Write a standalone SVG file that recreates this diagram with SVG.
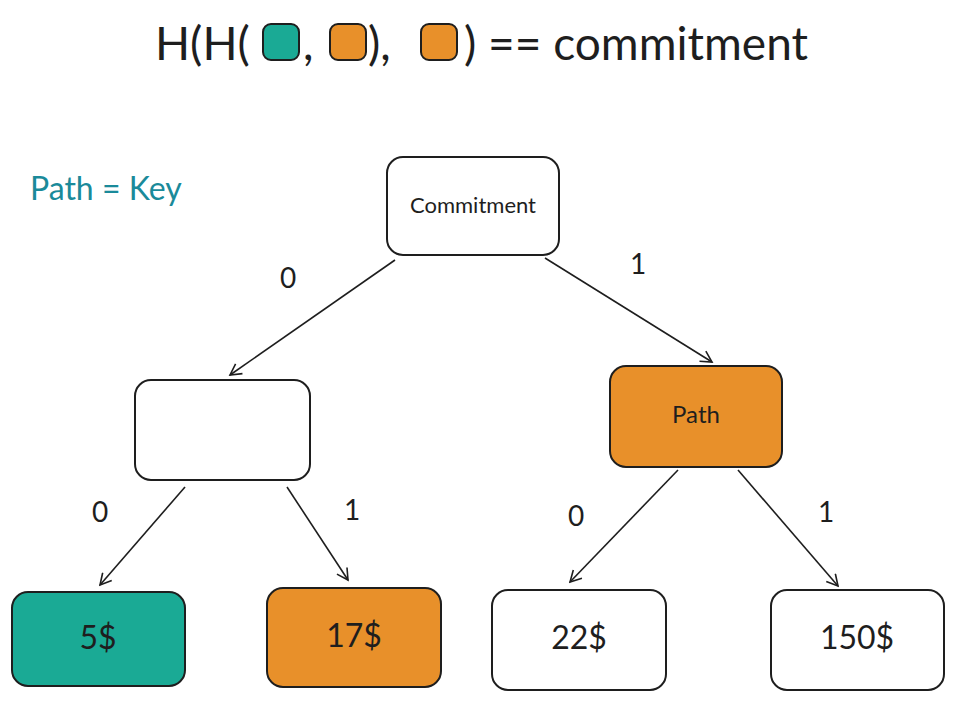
<svg xmlns="http://www.w3.org/2000/svg" width="954" height="702" viewBox="0 0 954 702">
<style>
text{font-family:"Lato","Liberation Sans",sans-serif;fill:#1e1e1e}
.box{stroke:#1e1e1e;stroke-width:2}
.lbl{font-size:28px;text-anchor:middle}
.c{stroke:#1e1e1e;stroke-width:1.6;fill:none;marker-end:url(#ah)}
</style>
<defs><marker id="ah" markerWidth="14" markerHeight="14" refX="12" refY="7" orient="auto" markerUnits="userSpaceOnUse"><path d="M1,1 L12,7 L1,13" fill="none" stroke="#1e1e1e" stroke-width="1.6"/></marker></defs>
<rect width="954" height="702" fill="#fff"/>
<g id="title">
<text x="155" y="60" font-size="46">H(H(</text>
<rect x="263" y="24" width="36" height="36" rx="8" fill="#1aaa95" class="box"/>
<text x="303" y="60" font-size="46">,</text>
<rect x="330" y="24" width="36" height="36" rx="8" fill="#e8902a" class="box"/>
<text x="368" y="60" font-size="46">),</text>
<rect x="421" y="24" width="36" height="36" rx="8" fill="#e8902a" class="box"/>
<text x="464" y="60" font-size="46">) == commitment</text>
</g>
<text x="30" y="200" font-size="32" style="fill:#1a8a9a">Path = Key</text>
<g id="edges">
<path class="c" d="M395,260 L230,375"/>
<path class="c" d="M545,258 L712,362"/>
<path class="c" d="M185,487 L100,585"/>
<path class="c" d="M287,487 L348,580"/>
<path class="c" d="M678,470 L570,582"/>
<path class="c" d="M738,470 L838,586"/>
<text class="lbl" x="288" y="288">0</text>
<text class="lbl" x="638" y="274">1</text>
<text class="lbl" x="100" y="522">0</text>
<text class="lbl" x="352" y="520">1</text>
<text class="lbl" x="576" y="526">0</text>
<text class="lbl" x="826" y="522">1</text>
</g>
<g id="commitment"><rect class="box" x="387" y="157" width="172" height="98" rx="16" fill="#fff"/><text x="473" y="213" font-size="22" text-anchor="middle">Commitment</text></g>
<g id="left"><rect class="box" x="135" y="380" width="175" height="100" rx="16" fill="#fff"/></g>
<g id="path"><rect class="box" x="610" y="366" width="172" height="101" rx="16" fill="#e8902a"/><text x="696" y="423" font-size="24" text-anchor="middle">Path</text></g>
<g id="l5"><rect class="box" x="12" y="592" width="173" height="94" rx="16" fill="#1aaa95"/><text x="98" y="649" font-size="32" text-anchor="middle">5$</text></g>
<g id="l17"><rect class="box" x="267" y="588" width="174" height="99" rx="16" fill="#e8902a"/><text x="354" y="647" font-size="32" text-anchor="middle">17$</text></g>
<g id="l22"><rect class="box" x="492" y="590" width="174" height="100" rx="16" fill="#fff"/><text x="579" y="649" font-size="32" text-anchor="middle">22$</text></g>
<g id="l150"><rect class="box" x="771" y="590" width="173" height="100" rx="16" fill="#fff"/><text x="857" y="649" font-size="32" text-anchor="middle">150$</text></g>
</svg>
